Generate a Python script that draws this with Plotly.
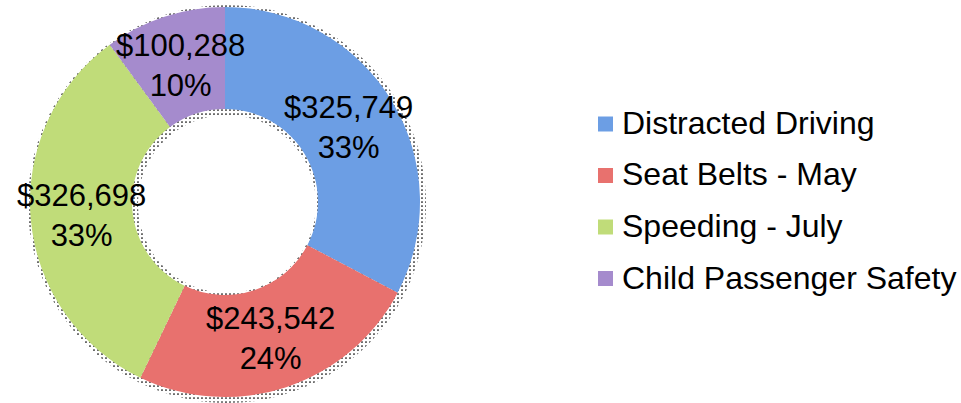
import math
import plotly.graph_objects as go

categories = ["Distracted Driving", "Seat Belts - May", "Speeding - July", "Child Passenger Safety"]
amounts = [325749, 243542, 326698, 100288]
colors = ["#6C9EE4", "#E8716E", "#C0DC79", "#A58BCD"]

W, H = 961, 403
CX, CY, R_OUT, R_IN = 225, 202, 195, 93
FONT = "Liberation Sans, Arial, sans-serif"

def px(x):
    return x / W

def py(y):
    return 1 - y / H

fig = go.Figure()

# dotted shadow ring behind the donut
fig.add_trace(go.Pie(
    values=[1], labels=["shadow"], sort=False, showlegend=False,
    domain=dict(x=[px(CX - R_OUT - 2), px(CX + R_OUT + 6)], y=[py(CY + R_OUT + 6), py(CY - R_OUT - 2)]),
    hole=(R_IN - 4) / (R_OUT + 4),
    marker=dict(colors=["white"], line=dict(width=0),
                pattern=dict(shape=".", fgcolor="black", bgcolor="white", size=4, solidity=0.15)),
    textinfo="none", hoverinfo="skip",
))

fig.add_trace(go.Pie(
    labels=categories, values=amounts, sort=False, direction="clockwise", rotation=0,
    domain=dict(x=[px(CX - R_OUT), px(CX + R_OUT)], y=[py(CY + R_OUT), py(CY - R_OUT)]),
    hole=R_IN / R_OUT,
    marker=dict(colors=colors, line=dict(width=0)),
    textinfo="none", showlegend=False,
))

# data labels placed at the middle of each ring segment
total = sum(amounts)
cum = 0
r_mid = (R_OUT + R_IN) / 2
for v in amounts:
    mid = (cum + v / 2) / total * 2 * math.pi
    cum += v
    x = CX + r_mid * math.sin(mid)
    y = CY - r_mid * math.cos(mid)
    fig.add_annotation(
        x=px(x), y=py(y), xref="paper", yref="paper", showarrow=False,
        text=f"${v:,}<br>{round(v / total * 100)}%",
        font=dict(family=FONT, size=31, color="black"),
        xanchor="center", yanchor="middle", align="center",
    )

# legend
LX, LY0, LDY = 598, 124, 51.5
for i, (name, c) in enumerate(zip(categories, colors)):
    yc = LY0 + i * LDY
    fig.add_shape(type="rect", xref="paper", yref="paper",
                  x0=px(LX), x1=px(LX + 15), y0=py(yc + 7.5), y1=py(yc - 7.5),
                  fillcolor=c, line=dict(width=0))
    fig.add_annotation(
        x=px(LX + 22), y=py(yc - 1), xref="paper", yref="paper", showarrow=False,
        text=name, xanchor="left", yanchor="middle",
        font=dict(family=FONT, size=32, color="black"),
    )

fig.update_layout(
    width=W, height=H, margin=dict(l=0, r=0, t=0, b=0),
    paper_bgcolor="white", plot_bgcolor="white", showlegend=False,
)

fig.write_html("out.html", config={"displayModeBar": False},
               post_script="document.body.style.margin='0px';")
